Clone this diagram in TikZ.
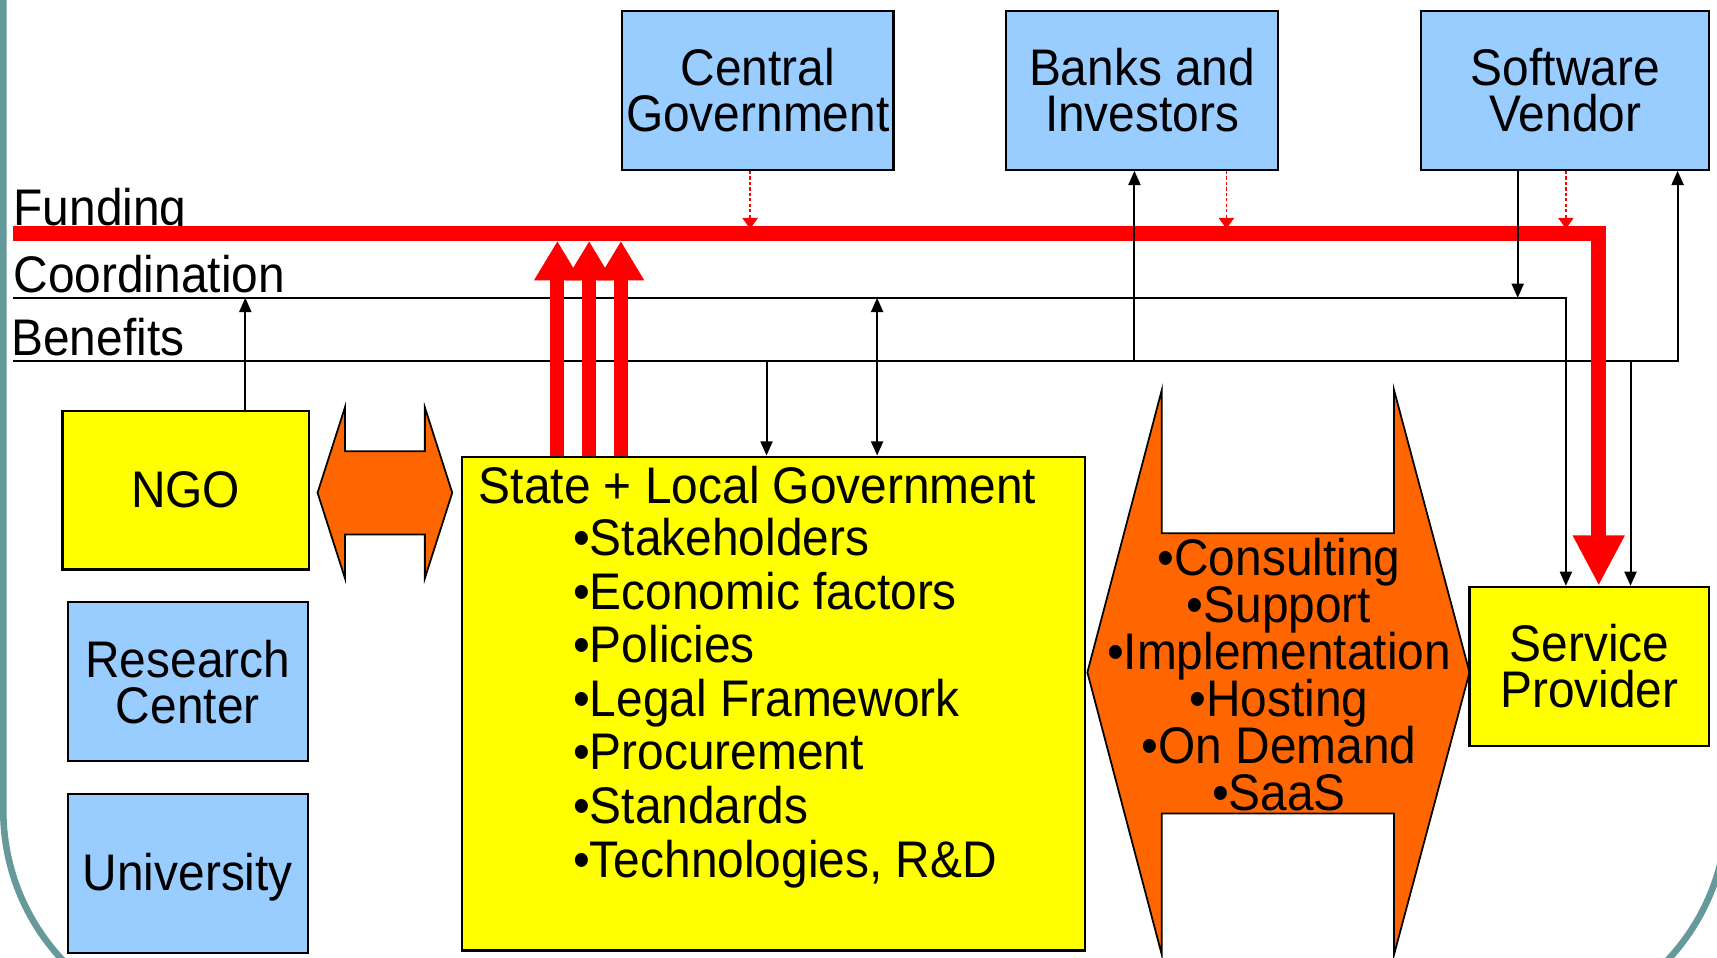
\documentclass[tikz,border=0pt]{standalone}
\usepackage{fontspec}
\setmainfont[FakeStretch=0.93]{Liberation Sans}
\usetikzlibrary{fit,calc,arrows.meta}
\definecolor{cblue}{HTML}{99CCFF}
\definecolor{cyel}{HTML}{FFFF00}
\definecolor{corange}{HTML}{FF6600}
\definecolor{cred}{HTML}{FF0000}
\definecolor{cteal}{HTML}{669999}
\newcommand{\txtsize}[1]{\fontsize{23.5pt}{#1}\selectfont\lineskiplimit=-20pt\lineskip=0pt}
\tikzset{
  every node/.style={inner sep=0pt, font=\txtsize{21pt}},
  bluebox/.style={draw=black, line width=1pt, fill=cblue},
  yelbox/.style={draw=black, line width=1pt, fill=cyel},
  boxtext/.style={align=center},
  orangearrow/.style={draw=black, line width=0.8pt, fill=corange, line join=miter},
  thinline/.style={draw=black, line width=0.9pt},
  blackhead/.style={thinline, -{Triangle[length=6.5pt,width=5.5pt]}},
  blackdouble/.style={thinline, {Triangle[length=6.5pt,width=5.5pt]}-{Triangle[length=6.5pt,width=5.5pt]}},
  fundline/.style={draw=cred, line width=7pt, line join=miter},
  fundup/.style={draw=cred, line width=6.5pt, -{Triangle[length=18pt,width=20pt]}},
  funddown/.style={draw=cred, line width=7pt, -{Triangle[length=23pt,width=22pt]}},
  dashedred/.style={draw=cred, line width=0.6pt, dash pattern=on 1.5pt off 1pt, -{Triangle[length=5pt,width=7pt]}},
  label/.style={anchor=west},
}
\begin{document}
\begin{tikzpicture}[x=0.5pt,y=-0.5pt]
\useasboundingbox (0,0) rectangle (1568,874);
\clip (0,0) rectangle (1568,874);
\fill[white] (0,0) rectangle (1568,874);
% slide frame
\draw[cteal, line width=3pt, rounded corners=100pt] (3,-600) rectangle (1577,940);

% orange double arrows
\path[orangearrow] (290,450) -- (315,372) -- (315,412) -- (388,412) -- (388,372) -- (413,450)
  -- (388,528) -- (388,488) -- (315,488) -- (315,528) -- cycle;
\path[orangearrow] (993,614) -- (1061,356) -- (1061,487) -- (1273,487) -- (1273,356) -- (1342,614)
  -- (1273,872) -- (1273,743) -- (1061,743) -- (1061,872) -- cycle;
\node[align=center, font=\txtsize{21.5pt}] (services) at (1168,616)
  {•Consulting\\•Support\\•Implementation\\•Hosting\\•On Demand\\•SaaS};

% boxes
\node[bluebox, fit={(568,10) (816,155)}] (cg) {};
\node[bluebox, fit={(919,10) (1167,155)}] (bi) {};
\node[bluebox, fit={(1298,10) (1561,155)}] (sv) {};
\node[yelbox, fit={(57,375) (282,520)}] (ngo) {};
\node[bluebox, fit={(62,550) (281,695)}] (rc) {};
\node[bluebox, fit={(62,725) (281,870)}] (uni) {};
\node[yelbox, fit={(422,417) (991,868)}] (state) {};
\node[yelbox, fit={(1342,536) (1561,681)}] (sp) {};
\node[boxtext] (cgt) at (cg.center) {Central\\Government};
\node[boxtext] (bit) at (bi.center) {Banks and\\Investors};
\node[boxtext] (svt) at (sv.center) {Software\\Vendor};
\node[boxtext] (ngot) at (ngo.center) {NGO};
\node[boxtext] (rct) at (rc.center) {Research\\Center};
\node[boxtext] (unit) at ($(uni.center)+(0,4)$) {University};
\node[boxtext] (spt) at (sp.center) {Service\\Provider};
\node[anchor=west] (statehead) at (437,443) {State + Local Government};
\node[anchor=west, align=left, font=\txtsize{24.5pt}] (statelist) at (523,642)
  {•Stakeholders\\•Economic factors\\•Policies\\•Legal Framework\\•Procurement\\•Standards\\•Technologies, R\&D};

% row labels
\node[label] (lfund) at (12,194) {Funding};
\node[label] (lcoord) at (12,250) {Coordination};
\node[label] (lben) at (10,308) {Benefits};

% line coordinates
\coordinate (fL) at (12,213);
\coordinate (cL) at (12,272);
\coordinate (bL) at (12,330);
\coordinate (spRed) at ($(sp.north)+(8.5,0)$);
\coordinate (spCoord) at ($(sp.north)+(-21.5,0)$);
\coordinate (spBen) at ($(sp.north)+(37.5,0)$);
\coordinate (svDown) at ($(sv.south)+(-43.5,0)$);
\coordinate (svUp) at ($(sv.south)+(102.5,0)$);
\coordinate (svDash) at ($(sv.south)+(0.5,0)$);
\coordinate (biUp) at ($(bi.south)+(-7,0)$);
\coordinate (biDash) at ($(bi.south)+(77,0)$);
\coordinate (cgDash) at ($(cg.south)+(-7,0)$);
\coordinate (ngoUp) at ($(ngo.north)+(54.5,0)$);
\coordinate (stR1) at ($(state.north)+(-197.5,0)$);
\coordinate (stR2) at ($(state.north)+(-168.5,0)$);
\coordinate (stR3) at ($(state.north)+(-139.5,0)$);
\coordinate (stBen) at ($(state.north)+(-6.5,0)$);
\coordinate (stCoord) at ($(state.north)+(94.5,0)$);

% coordination and benefits lines
\draw[blackhead] (cL) -- (spCoord |- cL) -- (spCoord);
\draw[blackhead] (bL) -- (svUp |- bL) -- (svUp);
\draw[blackhead] (ngoUp) -- (ngoUp |- cL);
\draw[blackhead] (stBen |- bL) -- (stBen);
\draw[blackdouble] (stCoord |- cL) -- (stCoord);
\draw[blackhead] (spBen |- bL) -- (spBen);

% funding
\draw[fundline] (fL) -- (spRed |- fL) -- ($(spRed)+(0,-40)$);
\draw[funddown] ($(spRed |- fL)+(0,-3)$) -- (spRed);
\draw[fundup] (stR1) -- ($(stR1 |- fL)+(0,7)$);
\draw[fundup] (stR2) -- ($(stR2 |- fL)+(0,7)$);
\draw[fundup] (stR3) -- ($(stR3 |- fL)+(0,7)$);
\draw[dashedred] (cgDash) -- ($(cgDash |- fL)+(0,-4)$);
\draw[dashedred] (biDash) -- ($(biDash |- fL)+(0,-4)$);
\draw[dashedred] (svDash) -- ($(svDash |- fL)+(0,-4)$);

% black lines crossing the funding line
\draw[blackhead] (biUp |- bL) -- (biUp);
\draw[blackhead] (svDown) -- (svDown |- cL);
\end{tikzpicture}
\end{document}
